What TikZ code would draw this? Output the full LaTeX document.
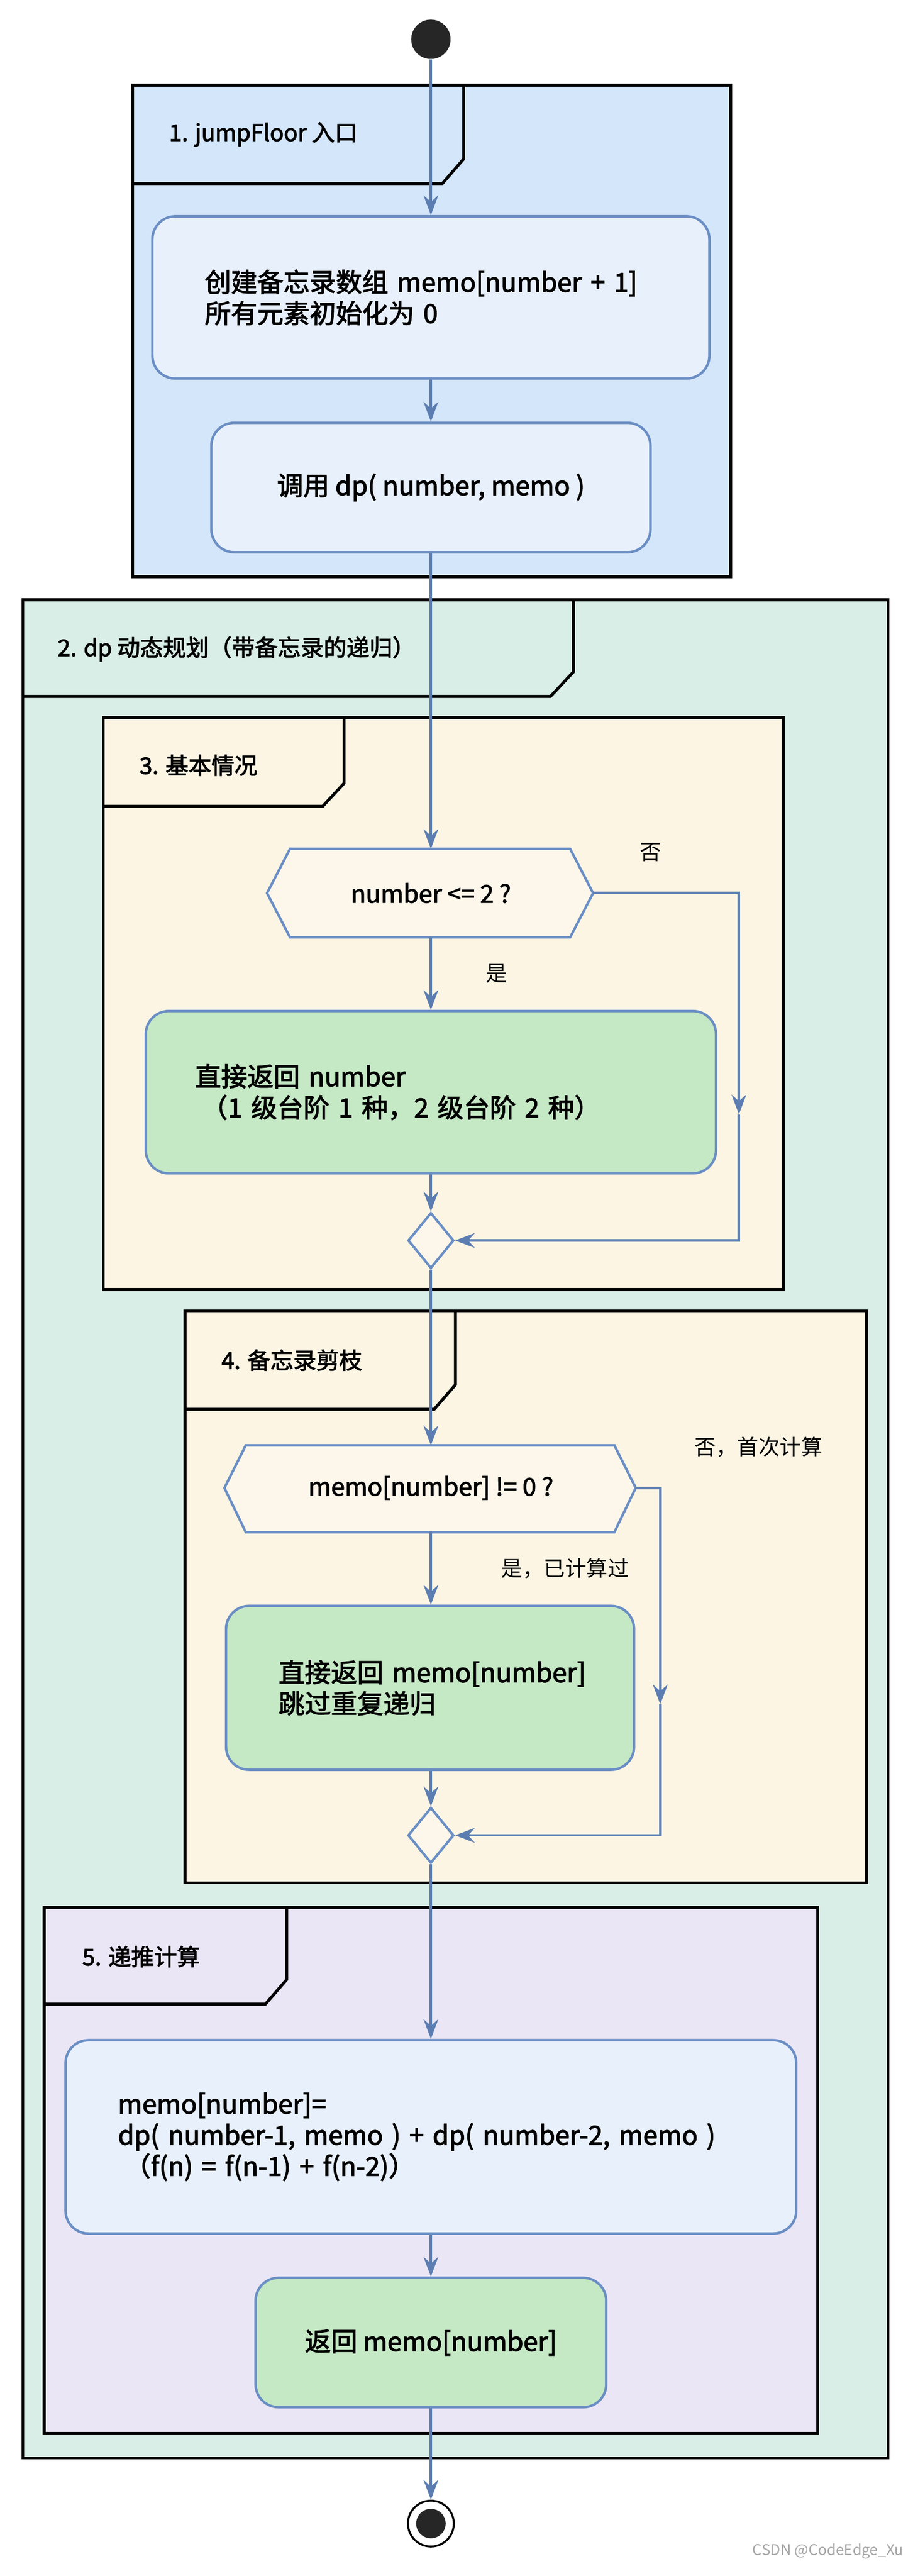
\documentclass[tikz,border=0pt]{standalone}
\usepackage{fontspec}
\setmainfont{Noto Sans CJK SC}[AutoFakeBold=2.5]
\usetikzlibrary{arrows.meta,shapes.geometric}
\definecolor{edge}{HTML}{5B7DB1}
\definecolor{bstroke}{HTML}{6A8EC4}
\definecolor{g1}{HTML}{D4E6FA}
\definecolor{g2}{HTML}{D9EEE6}
\definecolor{g3}{HTML}{FCF5E4}
\definecolor{g5}{HTML}{EBE6F5}
\definecolor{boxblue}{HTML}{E8F0FB}
\definecolor{boxgreen}{HTML}{C5E8C5}
\definecolor{hexfill}{HTML}{FDF7EB}
\tikzset{
  group/.style={draw=black,line width=1.8pt},
  tab/.style={draw=black,line width=1.8pt},
  glabel/.style={anchor=west,font=\fontsize{14}{17}\selectfont\bfseries,inner sep=0},
  box/.style={draw=bstroke,line width=1.5pt,rounded corners=14pt,inner xsep=0pt,inner ysep=0pt,
     font=\fontsize{16}{19}\selectfont\bfseries},
  blue/.style={box,fill=boxblue},
  green/.style={box,fill=boxgreen},
  hex/.style={draw=bstroke,line width=1.5pt,fill=hexfill},
  merge/.style={draw=bstroke,line width=1.5pt,fill=hexfill,diamond,minimum width=28pt,minimum height=34pt,inner sep=0},
  flow/.style={draw=edge,line width=1.5pt},
  arr/.style={flow,-{Stealth[length=12pt,width=9pt,inset=4pt]}},
  elabel/.style={font=\fontsize{13}{16}\selectfont,inner sep=0}
}
\begin{document}
\begin{tikzpicture}[x=1pt,y=-1pt]
\useasboundingbox (0,0) rectangle (557,1572);
% groups
\draw[group,fill=g1] (81,52) rectangle (446,352);
\draw[tab] (283,52) -- (283,97) -- (270,112) -- (81,112);
\node[glabel] at (103,82) {1. jumpFloor 入口};
\draw[group,fill=g2] (14,366) rectangle (542,1500);
\draw[tab] (350,366) -- (350,410) -- (336,425) -- (14,425);
\node[glabel] at (35,396) {2. dp 动态规划（带备忘录的递归）};
\draw[group,fill=g3] (63,438) rectangle (478,787);
\draw[tab] (210,438) -- (210,478) -- (197,492) -- (63,492);
\node[glabel] at (85,467) {3. 基本情况};
\draw[group,fill=g3] (113,800) rectangle (529,1149);
\draw[tab] (278,800) -- (278,845) -- (265,860) -- (113,860);
\node[glabel] at (135,830) {4. 备忘录剪枝};
\draw[group,fill=g5] (27,1164) rectangle (499,1485);
\draw[tab] (175,1164) -- (175,1208) -- (162,1223) -- (27,1223);
\node[glabel] at (50,1194) {5. 递推计算};

% nodes
\node[circle,fill=black!85,minimum size=24pt,inner sep=0] (start) at (263,24) {};
\node[blue,minimum width=340pt,minimum height=99pt,text width=276pt,align=left] (b1) at (263,181.5)
  {创建备忘录数组 memo[number + 1]\\所有元素初始化为 0};
\node[blue,minimum width=268pt,minimum height=79pt] (b2) at (263,297.5) {调用 dp( number, memo )};

\draw[hex] (177,518) -- (348,518) -- (362,545) -- (348,572) -- (177,572) -- (163,545) -- cycle;
\node[inner sep=0,minimum width=199pt,minimum height=54pt,font=\fontsize{15}{17}\selectfont\bfseries] (h1) at (263,545) {number <= 2 ?};
\node[green,minimum width=348pt,minimum height=99pt,text width=288pt,align=left] (r1) at (263,666.5)
  {直接返回 number\\\hspace*{4pt}（1 级台阶 1 种，2 级台阶 2 种）};
\node[merge] (d1) at (263,757) {};
\node[elabel] at (397,520) {否};
\node[elabel] at (303,594) {是};

\draw[hex] (150,882) -- (375,882) -- (388,908) -- (375,935) -- (150,935) -- (137,908) -- cycle;
\node[inner sep=0,minimum width=251pt,minimum height=53pt,font=\fontsize{15}{17}\selectfont\bfseries] (h2) at (263,908) {memo[number] != 0 ?};
\node[green,minimum width=249pt,minimum height=100pt,text width=185pt,align=left] (r2) at (262.5,1030)
  {\makebox[185pt][l]{直接返回 memo[number]}\\跳过重复递归};
\node[merge] (d2) at (263,1120) {};
\node[elabel] at (463,883) {否，首次计算};
\node[elabel] at (345,957) {是，已计算过};

\node[blue,minimum width=446pt,minimum height=118pt,text width=382pt,align=left] (b5) at (263,1304)
  {memo[number]=\\dp( number-1, memo ) + dp( number-2, memo )\\\hspace*{4pt}（f(n) = f(n-1) + f(n-2)）};
\node[green,minimum width=214pt,minimum height=79pt] (b6) at (263,1429.5) {返回 memo[number]};
\node[circle,draw=black,line width=1.2pt,fill=white,minimum size=28pt,inner sep=0] (end) at (263,1540) {};
\fill[black!85] (end.center) circle (9pt);

\coordinate (n1a) at (451,545);
\coordinate (n1b) at (451,680);
\coordinate (n1c) at (451,757);
\coordinate (n2a) at (403,908);
\coordinate (n2b) at (403,1040);
\coordinate (n2c) at (403,1120);

% connectors
\draw[arr] (start) -- (b1);
\draw[arr] (b1) -- (b2);
\draw[arr] (b2) -- (263,518);
\draw[arr] (263,572) -- (r1);
\draw[arr] (r1) -- (d1);
\draw[arr] (362,545) -- (n1a) -- (n1b);
\draw[arr] (n1b) -- (n1c) -- (d1.east);
\draw[arr] (d1) -- (263,882);
\draw[arr] (263,935) -- (r2.north -| d2);
\draw[arr] (r2.south -| d2) -- (d2);
\draw[arr] (388,908) -- (n2a) -- (n2b);
\draw[arr] (n2b) -- (n2c) -- (d2.east);
\draw[arr] (d2) -- (b5);
\draw[arr] (b5) -- (b6);
\draw[arr] (b6) -- (end);

\node[anchor=east,text=black!35,font=\fontsize{9}{11}\selectfont] at (555,1557) {CSDN @CodeEdge\_Xu};
\end{tikzpicture}
\end{document}
